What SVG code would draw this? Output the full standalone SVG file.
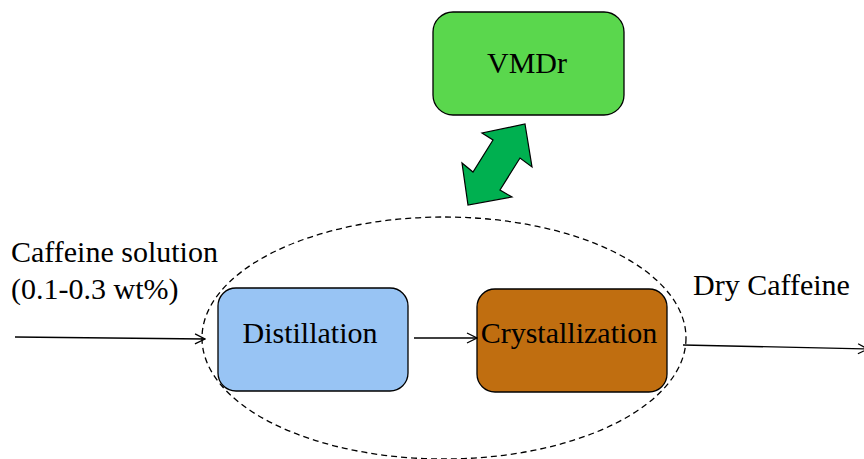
<svg xmlns="http://www.w3.org/2000/svg" width="864" height="459" viewBox="0 0 864 459">
<defs>
<style>
.box{stroke:#000;stroke-width:1.3}
.lbl{font-family:"Liberation Serif","Times New Roman",serif;font-size:30px;fill:#000}
.conn{stroke:#000;stroke-width:1.3;fill:none}
</style>
<marker id="open" viewBox="0 0 12 12" refX="11" refY="6" markerWidth="12" markerHeight="12" markerUnits="userSpaceOnUse" orient="auto">
<path d="M1,1 L11,6 L1,11" fill="none" stroke="#000" stroke-width="1.3"/>
</marker>
</defs>
<rect width="864" height="459" fill="#fff"/>
<g id="boundary">
<ellipse cx="444" cy="338" rx="242" ry="121" fill="none" stroke="#000" stroke-width="1.3" stroke-dasharray="6,4"/>
</g>
<g id="vmdr">
<rect class="box" x="433" y="12" width="191" height="103" rx="20" fill="#5AD74D"/>
<text class="lbl" x="527" y="73" text-anchor="middle">VMDr</text>
</g>
<g id="distillation">
<rect class="box" x="218" y="288" width="190" height="103" rx="18" fill="#98C4F4"/>
<text class="lbl" x="310" y="343" text-anchor="middle">Distillation</text>
</g>
<g id="crystallization">
<rect class="box" x="477" y="289" width="190" height="103" rx="18" fill="#C06E10"/>
<text class="lbl" x="569" y="343" text-anchor="middle">Crystallization</text>
</g>
<g id="exchange">
<polygon points="525,124 532,167 520,158 500,190 512,197 468,205 462,163 473,172 493,140 482,133" fill="#00B050" stroke="#000" stroke-width="1.2" stroke-linejoin="miter"/>
</g>
<g id="connectors">
<line class="conn" x1="15" y1="337" x2="205" y2="339" marker-end="url(#open)"/>
<line class="conn" x1="414" y1="338" x2="477" y2="338" marker-end="url(#open)"/>
<line class="conn" x1="683" y1="345" x2="868" y2="349" marker-end="url(#open)"/>
</g>
<g id="labels">
<text class="lbl" x="11" y="262">Caffeine solution</text>
<text class="lbl" x="11" y="299">(0.1-0.3 wt%)</text>
<text class="lbl" x="693" y="295">Dry Caffeine</text>
</g>
</svg>
